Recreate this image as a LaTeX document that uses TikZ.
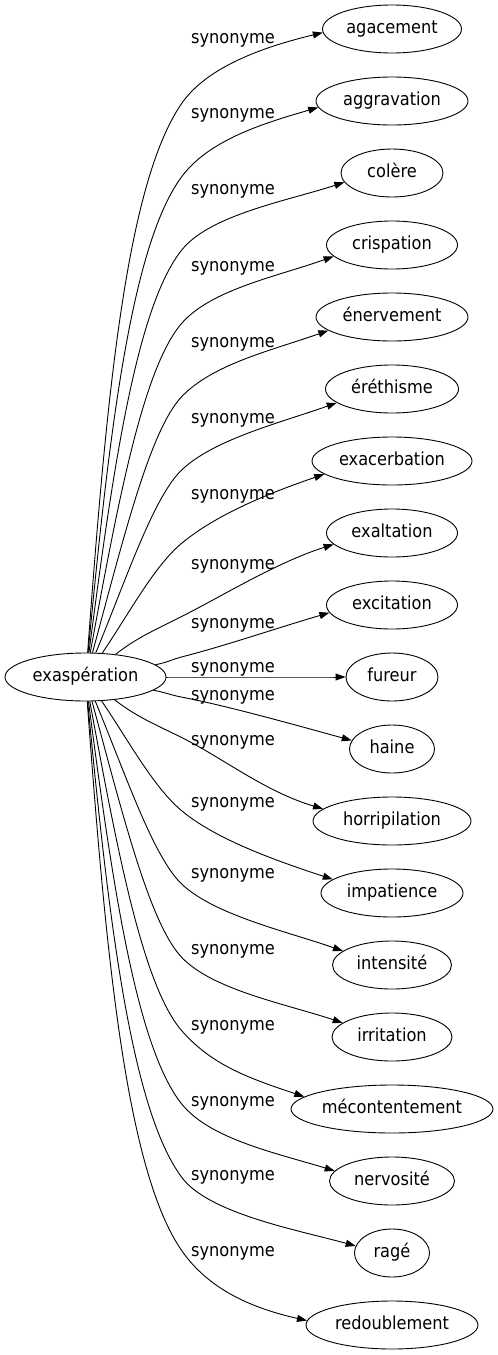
\documentclass[tikz,border=0pt]{standalone}
\usepackage{fontspec}
\usepackage{tikz}
\usetikzlibrary{shapes,arrows.meta,positioning,calc}
\newfontfamily\graphfont{DejaVu Sans}[FakeStretch=0.9]

\begin{document}
\begin{tikzpicture}[x=1pt, y=-1pt,
    word/.style={draw, ellipse, line width=0.9pt, minimum height=48pt, inner sep=0pt,
        text height=12pt, text depth=3pt, font=\graphfont\fontsize{18}{20}\selectfont},
    rel/.style={inner sep=0pt, font=\graphfont\fontsize{18}{20}\selectfont},
    edge/.style={line width=0.9pt, -{Triangle[length=10pt, width=7pt]}}]
    \useasboundingbox (0,0) rectangle (498,1355);

    % Centre word
    \node[word, minimum width=161pt] (ex) at (85.5,677) {exaspération};

    % Synonyms: name/text/width/label y
    \foreach \nm/\txt/\w/\ly [count=\i from 0] in {
        agacement/agacement/139/37, aggravation/aggravation/152/112,
        colere/colère/102/188, crispation/crispation/131/265,
        enervement/énervement/152/341, erethisme/éréthisme/133/417,
        exacerbation/exacerbation/160/493, exaltation/exaltation/131/563,
        excitation/excitation/131/622, fureur/fureur/92/666,
        haine/haine/85/694, horripilation/horripilation/158/739,
        impatience/impatience/142/801, intensite/intensité/119/872,
        irritation/irritation/120/948, mecontentement/mécontentement/202/1024,
        nervosite/nervosité/125/1100, rage/ragé/75/1174,
        redoublement/redoublement/172/1250} {
        \pgfmathsetmacro\yt{29+72*\i}
        \node[word, minimum width=\w pt] (\nm) at (392,\yt) {\txt};
        \node[rel, anchor=base] (lab-\nm) at (233,\ly+6) {synonyme};
        \pgfmathsetmacro\dely{\yt-677}
        \pgfmathsetmacro\nn{abs(\dely)/648}
        \pgfmathsetmacro\sgn{\dely<0 ? -1 : (\dely>0 ? 1 : 0)}
        \pgfmathsetmacro\asg{abs(\sgn)}
        % leaving the centre word
        \pgfmathsetmacro\sdir{\asg*max(0,88-78*exp(-(\nn-0.111)/0.25))}
        \pgfmathtruncatemacro\sang{\sgn>0 ? 360-\sdir : \sdir}
        \pgfmathsetmacro\srad{1/sqrt((cos(\sang)/80.5)^2+(sin(\sang)/24)^2)}
        \pgfmathsetmacro\sx{85.5+\srad*cos(\sang)}
        \pgfmathsetmacro\sy{677-\srad*sin(\sang)}
        % knee of the curve
        \pgfmathsetmacro\kk{min(74+12*(1-\nn),0.72*abs(\dely))}
        \pgfmathsetmacro\ky{\yt-\sgn*\kk}
        \pgfmathsetmacro\vv{abs(\sy-\ky)}
        \pgfmathsetmacro\chd{atan2(\vv,182-\sx)}
        \pgfmathsetmacro\kth{min(55*max(\nn,0.001)^0.3*min(1,\nn/0.2),\chd-3)}
        \pgfmathsetmacro\la{min(0.45*\vv/sin(max(\sdir,1)),0.35*(182-\sx)/cos(\sdir))}
        \pgfmathsetmacro\lb{max(0.18*\vv,0.45*(182-\sx))}
        \pgfmathsetmacro\cax{\sx+\la*cos(\sdir)}
        \pgfmathsetmacro\cay{\sy+\sgn*\la*sin(\sdir)}
        \pgfmathsetmacro\cbx{182-\lb*cos(\kth)}
        \pgfmathsetmacro\cby{\ky-\sgn*\lb*sin(\kth)}
        \pgfmathsetmacro\ccx{182+45*cos(\kth)}
        \pgfmathsetmacro\ccy{\ky+\sgn*45*sin(\kth)}
        % reaching the synonym
        \pgfmathsetmacro\hw{\w/2}
        \pgfmathsetmacro\eoff{4+45*\nn*max(1-\nn,0.001)^1.2}
        \pgfmathsetmacro\enx{392-\hw*sqrt(1-(\eoff/24)^2)}
        \pgfmathsetmacro\eny{\yt-\sgn*\eoff}
        \pgfmathtruncatemacro\eang{180-\sgn*atan2(\eoff,\hw*sqrt(1-(\eoff/24)^2))}
        \pgfmathsetmacro\arr{\asg*(13+25*\nn*(1-\nn))}
        \pgfmathsetmacro\cdx{\enx-60*cos(\arr)}
        \pgfmathsetmacro\cdy{\eny-\sgn*60*sin(\arr)}
        \draw[edge] (ex.\sang) .. controls (\cax,\cay) and (\cbx,\cby) .. (182,\ky)
            .. controls (\ccx,\ccy) and (\cdx,\cdy) .. (\nm.\eang);
    }
\end{tikzpicture}
\end{document}
